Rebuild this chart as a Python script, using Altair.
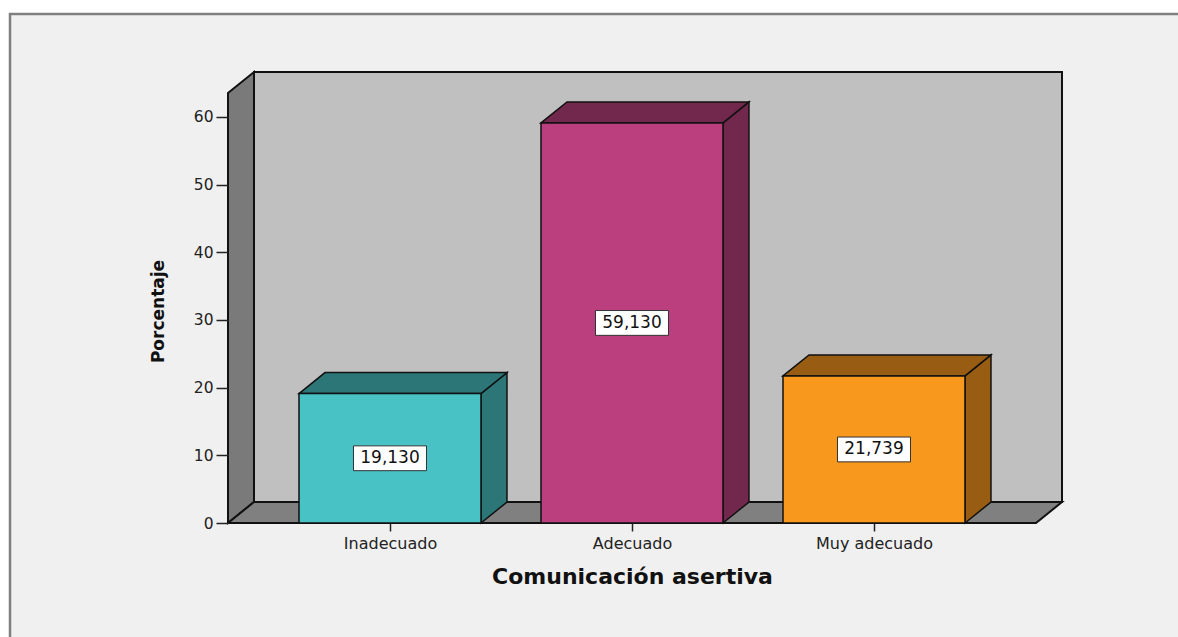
import json
import altair as alt
import pandas as pd

# ---- data ----
categories = ["Inadecuado", "Adecuado", "Muy adecuado"]
percentages = [19.130, 59.130, 21.739]
front_colors = ["#48C2C5", "#BB3F7F", "#F8981D"]
side_colors = ["#2C7678", "#72284D", "#985C13"]
y_ticks = [0, 10, 20, 30, 40, 50, 60]

# ---- geometry / style constants (pseudo-3D) ----
X_MIN, X_MAX = 0.3306, 3.7769
Y_MAX = 66.65
HALF = 0.376      # half bar width in category units
DX = 0.1074       # depth offset, x units
DY = 3.10         # depth offset, y units
FONT = "DejaVu Sans"

def poly(rows, name, color, xs, ys, y2s):
    for a, b, c in zip(xs, ys, y2s):
        rows.append({"poly": name, "fill": color, "x": a, "y": b, "y2": c})

walls = []
poly(walls, "a_back", "#C0C0C0", [X_MIN + DX, X_MAX], [Y_MAX, Y_MAX], [DY, DY])
poly(walls, "b_left", "#7A7A7A", [X_MIN, X_MIN + DX], [Y_MAX - DY, Y_MAX], [0, DY])
poly(walls, "c_floor", "#808080", [X_MIN, X_MIN + DX, X_MAX - DX, X_MAX],
     [0, DY, DY, DY], [0, 0, 0, DY])
walls_df = pd.DataFrame(walls)

faces = []
for i, (cat, v) in enumerate(zip(categories, percentages)):
    c = i + 1
    poly(faces, f"{i}_side", side_colors[i], [c + HALF, c + HALF + DX], [v, v + DY], [0, DY])
    poly(faces, f"{i}_top", side_colors[i],
         [c - HALF, c - HALF + DX, c + HALF, c + HALF + DX],
         [v, v + DY, v + DY, v + DY], [v, v, v, v + DY])
    poly(faces, f"{i}_zfront", front_colors[i], [c - HALF, c + HALF], [v, v], [0, 0])
faces_df = pd.DataFrame(faces)

labels_df = pd.DataFrame({
    "x": [i + 1 for i in range(len(categories))],
    "y": [v / 2 for v in percentages],
    "label": [f"{v:.3f}".replace(".", ",") for v in percentages],
})

label_expr = json.dumps(categories) + "[datum.value - 1]"

def X(field="x"):
    return alt.X(f"{field}:Q",
                 scale=alt.Scale(domain=[X_MIN, X_MAX], nice=False, zero=False),
                 axis=alt.Axis(values=[1, 2, 3], labelExpr=label_expr,
                               title="Comunicación asertiva", zindex=1,
                               titleFont=FONT, titleFontSize=22, titleFontWeight="bold",
                               titleColor="#111", titleX=404, titleY=60,
                               titleAlign="center", titleBaseline="alphabetic",
                               labelFont=FONT, labelFontSize=16, labelColor="#222",
                               labelPadding=4, labelFlush=False, labelOverlap=False,
                               tickSize=8, tickColor="#222", tickWidth=1.5,
                               domain=False, grid=False))

def Y(field="y"):
    return alt.Y(f"{field}:Q", stack=None,
                 scale=alt.Scale(domain=[0, Y_MAX], nice=False, zero=True),
                 axis=alt.Axis(values=y_ticks, title="Porcentaje", zindex=1,
                               titleFont=FONT, titleFontSize=17, titleFontWeight="bold",
                               titleColor="#111", titleX=-70, titleY=239, titleAngle=270,
                               titleAlign="center", titleBaseline="middle",
                               labelFont=FONT, labelFontSize=15.5, labelColor="#222",
                               labelPadding=3, labelFlush=False,
                               tickSize=12, tickColor="#222", tickWidth=1.5,
                               domain=False, grid=False))

frame = alt.Chart(alt.Data(values=[{}])).mark_rect(
    fill="#F0F0F0", stroke="#7F7F7F", strokeWidth=2.5
).encode(x=alt.value(-218), x2=alt.value(990), y=alt.value(-58), y2=alt.value(600))

def area_layer(df, sw):
    return alt.Chart(df).mark_area(
        orient="vertical", stroke="#111", strokeWidth=sw, strokeJoin="miter",
        opacity=1, fillOpacity=1, line=False
    ).encode(
        x=X(), y=Y(), y2="y2:Q",
        fill=alt.Fill("fill:N", scale=None),
        detail="poly:N",
    )

wall_layer = area_layer(walls_df, 2)
bar_layer = area_layer(faces_df, 1.5)

box_layer = alt.Chart(labels_df).mark_point(
    shape="M-1,-0.34H1V0.34H-1Z", size=73 * 73, filled=True,
    fill="white", stroke="#333", strokeWidth=1, opacity=1
).encode(x=X(), y=Y())

text_layer = alt.Chart(labels_df).mark_text(
    font=FONT, fontSize=17, color="#111", baseline="middle", align="center"
).encode(x=X(), y=Y(), text="label:N")

chart = alt.layer(frame, wall_layer, bar_layer, box_layer, text_layer).properties(
    width=834, height=451,
    autosize=alt.AutoSizeParams(type="none"),
    padding={"left": 228, "top": 72, "right": 116, "bottom": 114},
    background="white",
).configure_view(strokeWidth=0)

chart.save("out.html", embed_options={"renderer": "svg", "actions": False})
